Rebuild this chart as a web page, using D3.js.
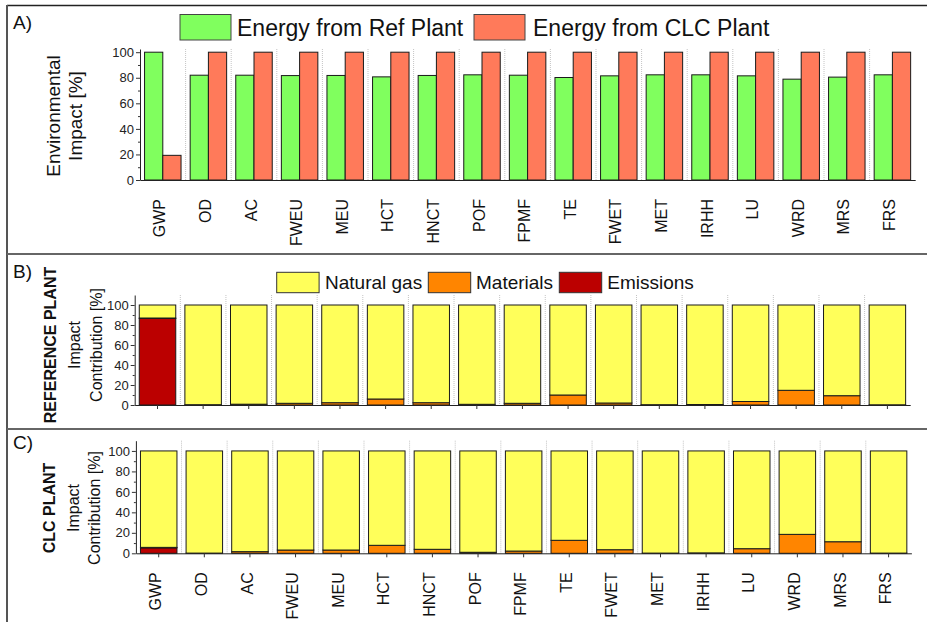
<!DOCTYPE html>
<html>
<head>
<meta charset="utf-8">
<script src="https://cdn.jsdelivr.net/npm/d3@7"></script>
<style>
  html, body { margin: 0; padding: 0; background: #fff; }
  svg { display: block; font-family: "Liberation Sans", Arial, sans-serif; }
</style>
</head>
<body>
<svg id="chart" width="927" height="622"></svg>
<script>
// ---------- DATA ----------
const categories = ["GWP","OD","AC","FWEU","MEU","HCT","HNCT","POF","FPMF","TE","FWET","MET","IRHH","LU","WRD","MRS","FRS"];

// Panel A: environmental impact [%]
const energyRefPlant = [100, 82, 82, 81.7, 81.8, 80.7, 81.8, 82.3, 82, 80.2, 81.5, 82.3, 82.3, 81.5, 78.9, 80.5, 82.3];
const energyClcPlant = [19.3, 100, 100, 100, 100, 100, 100, 100, 100, 100, 100, 100, 100, 100, 100, 100, 100];

// Panel B: reference plant contributions [%]
const refEmissions  = [86.5, 0, 0, 0, 0, 0, 0, 0, 0, 0, 0, 0, 0, 0, 0, 0, 0];
const refMaterials  = [0.5, 0.3, 0.8, 1.7, 2.3, 6.0, 2.3, 0.7, 1.7, 10.0, 2.0, 0.3, 0.5, 3.5, 14.7, 9.3, 0.2];
const refNaturalGas = [13.0, 99.7, 99.2, 98.3, 97.7, 94.0, 97.7, 99.3, 98.3, 90.0, 98.0, 99.7, 99.5, 96.5, 85.3, 90.7, 99.8];

// Panel C: CLC plant contributions [%]
const clcEmissions  = [5.3, 0, 0, 0, 0, 0, 0, 0, 0, 0, 0, 0, 0, 0, 0, 0, 0];
const clcMaterials  = [0.5, 0.2, 1.6, 3.2, 3.2, 7.8, 3.9, 1.0, 2.2, 12.7, 3.5, 0.2, 0.4, 4.5, 18.5, 11.3, 0.2];
const clcNaturalGas = [94.2, 99.8, 98.4, 96.8, 96.8, 92.2, 96.1, 99.0, 97.8, 87.3, 96.5, 99.8, 99.6, 95.5, 81.5, 88.7, 99.8];

const yMajorTicks = [0, 20, 40, 60, 80, 100];
const yMinorTicks = [10, 30, 50, 70, 90];

const seriesA = ["Energy from Ref Plant", "Energy from CLC Plant"];
const seriesStack = ["Emissions", "Materials", "Natural gas"];
const legendStack = ["Natural gas", "Materials", "Emissions"];

// ---------- STYLE ----------
const colA = {"Energy from Ref Plant": "#80ff5e", "Energy from CLC Plant": "#ff7a5a"};
const colStack = {"Natural gas": "#ffff5a", "Materials": "#ff8500", "Emissions": "#bb0000"};
const FONT = '"Liberation Sans", Arial, sans-serif';

const svg = d3.select("#chart");
svg.append("rect").attr("width", 927).attr("height", 622).attr("fill", "#fff");

// frame
svg.append("line").attr("x1", 7).attr("x2", 927).attr("y1", 5.5).attr("y2", 5.5).attr("stroke", "#222").attr("stroke-width", 1.5);
svg.append("line").attr("x1", 7).attr("x2", 7).attr("y1", 5).attr("y2", 622).attr("stroke", "#555").attr("stroke-width", 2);
[254, 429].forEach(y => {
  svg.append("line").attr("x1", 7).attr("x2", 927).attr("y1", y).attr("y2", y).attr("stroke", "#666").attr("stroke-width", 2.2);
});

function panelLetter(txt, y) {
  svg.append("text").attr("x", 13).attr("y", y).attr("font-size", 19).attr("fill", "#111").text(txt);
}
panelLetter("A)", 28.5);
panelLetter("B)", 277.5);
panelLetter("C)", 449);

function yAxes(g, y, x0) {
  const ax = g.append("g").attr("transform", `translate(${x0},0)`)
    .call(d3.axisLeft(y).tickValues(yMajorTicks).tickSize(4).tickPadding(2).tickSizeOuter(0));
  g.append("g").attr("transform", `translate(${x0},0)`)
    .call(d3.axisLeft(y).tickValues(yMinorTicks).tickSize(2).tickFormat("").tickSizeOuter(0))
    .select(".domain").remove();
  ax.selectAll("text").attr("font-size", 13).attr("font-family", FONT).attr("fill", "#222");
  g.selectAll(".tick line").attr("stroke", "#333");
  ax.select(".domain").attr("stroke", "#222");
}

function separators(g, x, yTop, yBot) {
  const step = x.step();
  const r0 = x.range()[0];
  const idx = d3.range(1, categories.length);
  g.append("g").selectAll("line").data(idx).join("line")
    .attr("x1", i => r0 + step * i).attr("x2", i => r0 + step * i)
    .attr("y1", yTop).attr("y2", yBot)
    .attr("stroke", "#c4c4c4").attr("stroke-width", 1).attr("stroke-dasharray", "1,1");
}

function xAxis(g, x, yPos, tickLen, withLabels) {
  const ax = g.append("g").attr("transform", `translate(0,${yPos})`)
    .call(d3.axisBottom(x).tickSize(tickLen).tickSizeOuter(0).tickFormat(withLabels ? (d => d) : ""));
  ax.select(".domain").attr("stroke", "#222");
  ax.selectAll(".tick line").attr("stroke", "#333");
  if (withLabels) {
    ax.selectAll("text")
      .attr("transform", "rotate(-90)")
      .attr("text-anchor", "end")
      .attr("x", -19).attr("y", 0).attr("dy", "0.16em")
      .attr("font-size", 16).attr("font-family", FONT).attr("fill", "#111");
  }
}

function yTitle(lines, cy) {
  lines.forEach(l => {
    svg.append("text")
      .attr("transform", `translate(${l.x},${cy}) rotate(-90)`)
      .attr("text-anchor", "middle")
      .attr("font-size", l.size).attr("font-weight", l.bold ? "bold" : "normal")
      .attr("fill", "#111").text(l.text);
  });
}

// ---------- PANEL A ----------
{
  const g = svg.append("g");
  const x = d3.scaleBand().domain(categories).range([140, 915.2]).paddingInner(0.2).paddingOuter(0.1);
  const xs = d3.scaleBand().domain(seriesA).range([0, x.bandwidth()]).padding(0);
  const y = d3.scaleLinear().domain([0, 102.5]).range([180, 49]);
  separators(g, x, 49, 180);
  const data = [];
  categories.forEach((c, i) => {
    data.push({c, s: seriesA[0], v: energyRefPlant[i]});
    data.push({c, s: seriesA[1], v: energyClcPlant[i]});
  });
  g.append("g").selectAll("rect").data(data).join("rect")
    .attr("x", d => x(d.c) + xs(d.s)).attr("width", xs.bandwidth())
    .attr("y", d => y(d.v)).attr("height", d => y(0) - y(d.v))
    .attr("fill", d => colA[d.s]).attr("stroke", "#1a1a1a").attr("stroke-width", 1);
  yAxes(g, y, 140);
  xAxis(g, x, 180, 0, true);
  yTitle([{x: 60, text: "Environmental", size: 19}, {x: 82, text: "Impact [%]", size: 19}], 116);

  // legend
  const lg = svg.append("g");
  const items = [{s: seriesA[0], rx: 180, tx: 237}, {s: seriesA[1], rx: 474, tx: 533}];
  items.forEach(it => {
    lg.append("rect").attr("x", it.rx).attr("y", 14.5).attr("width", 51).attr("height", 25.5)
      .attr("fill", colA[it.s]).attr("stroke", "#444").attr("stroke-width", 1);
    lg.append("text").attr("x", it.tx).attr("y", 35.5).attr("font-size", 23).attr("fill", "#111").text(it.s);
  });
}

// ---------- STACKED PANELS ----------
function stackedPanel(opts) {
  const g = svg.append("g");
  const x = d3.scaleBand().domain(categories).range([opts.x0, opts.x1]).paddingInner(0.2).paddingOuter(0.1);
  const y = d3.scaleLinear().domain([0, 110]).range([opts.yBot, opts.yTop]);
  separators(g, x, opts.yTop, opts.yBot);
  const rows = categories.map((c, i) => ({
    cat: c,
    "Emissions": opts.emis[i],
    "Materials": opts.mat[i],
    "Natural gas": opts.ng[i]
  }));
  const stacked = d3.stack().keys(seriesStack)(rows);
  g.append("g").selectAll("g").data(stacked).join("g")
    .attr("fill", s => colStack[s.key])
    .selectAll("rect").data(s => s.filter(d => d[1] - d[0] > 0)).join("rect")
    .attr("x", d => x(d.data.cat)).attr("width", x.bandwidth())
    .attr("y", d => y(d[1])).attr("height", d => y(d[0]) - y(d[1]))
    .attr("stroke", "#1a1a1a").attr("stroke-width", 1);
  yAxes(g, y, opts.x0);
  xAxis(g, x, opts.yBot, 4, opts.labels);
  yTitle(opts.titles, opts.titleCy);
}

stackedPanel({
  x0: 134.7, x1: 910.2, yTop: 295, yBot: 405,
  emis: refEmissions, mat: refMaterials, ng: refNaturalGas, labels: false,
  titles: [{x: 56, text: "REFERENCE PLANT", size: 16, bold: true}, {x: 79.5, text: "Impact", size: 16}, {x: 101.5, text: "Contribution [%]", size: 16}],
  titleCy: 345
});

stackedPanel({
  x0: 135.9, x1: 911.4, yTop: 440.7, yBot: 553.3,
  emis: clcEmissions, mat: clcMaterials, ng: clcNaturalGas, labels: true,
  titles: [{x: 55, text: "CLC PLANT", size: 16, bold: true}, {x: 78.5, text: "Impact", size: 16}, {x: 99.5, text: "Contribution [%]", size: 16}],
  titleCy: 508
});

// legend B
{
  const lg = svg.append("g");
  const items = [{s: legendStack[0], rx: 276.7, tx: 325}, {s: legendStack[1], rx: 428.3, tx: 476}, {s: legendStack[2], rx: 559.3, tx: 607.3}];
  items.forEach(it => {
    lg.append("rect").attr("x", it.rx).attr("y", 272.3).attr("width", 42.4).attr("height", 20.4)
      .attr("fill", colStack[it.s]).attr("stroke", "#333").attr("stroke-width", 1);
    lg.append("text").attr("x", it.tx).attr("y", 289).attr("font-size", 19).attr("fill", "#111").text(it.s);
  });
}
</script>
</body>
</html>
